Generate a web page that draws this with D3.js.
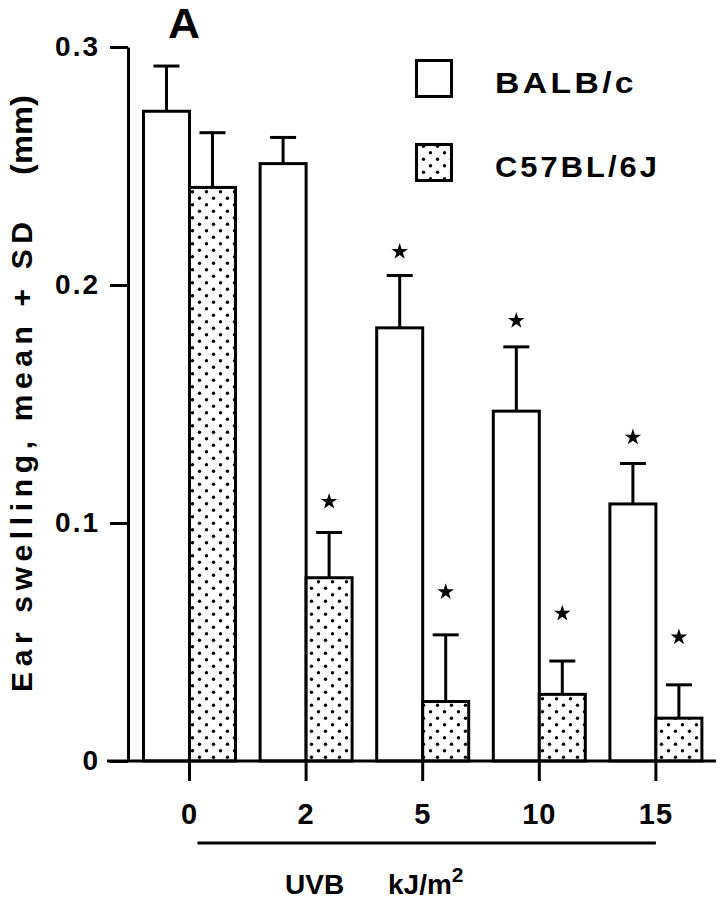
<!DOCTYPE html>
<html>
<head>
<meta charset="utf-8">
<script src="https://cdn.jsdelivr.net/npm/d3@7"></script>
<style>
  body { margin: 0; background: #fff; }
  svg text { font-family: "Liberation Sans", Arial, Helvetica, sans-serif; font-weight: bold; fill: #000; }
</style>
</head>
<body>
<script>
// UVB doses (kJ/m2) and the two mouse strains
const doses = ["0", "2", "5", "10", "15"];
const strains = ["BALB/c", "C57BL/6J"];

// ear swelling (mm), mean and SD
const balbMean = [0.273, 0.251, 0.182, 0.147, 0.108];
const balbSD   = [0.019, 0.011, 0.022, 0.027, 0.017];
const c57Mean  = [0.241, 0.077, 0.025, 0.028, 0.018];
const c57SD    = [0.023, 0.019, 0.028, 0.014, 0.014];

// level of the significance stars (null = none)
const balbStar = [null, null, 0.214, 0.185, 0.136];
const c57Star  = [null, 0.109, 0.071, 0.062, 0.052];

const yTicks = [0, 0.1, 0.2, 0.3];

const width = 721, height = 900;

const svg = d3.select("body").append("svg")
    .attr("width", width)
    .attr("height", height);

// dotted fill for C57BL/6J
const pat = svg.append("defs").append("pattern")
    .attr("id", "dots")
    .attr("patternUnits", "userSpaceOnUse")
    .attr("width", 14)
    .attr("height", 13);
pat.append("rect").attr("width", 14).attr("height", 13).attr("fill", "#fff");
pat.append("circle").attr("cx", 3.5).attr("cy", 3.2).attr("r", 1.7).attr("fill", "#000");
pat.append("circle").attr("cx", 10.5).attr("cy", 9.7).attr("r", 1.7).attr("fill", "#000");

const fills = ["#fff", "url(#dots)"];

// scales
const x0 = d3.scaleBand()
    .domain(doses)
    .range([143.5, 701.9])
    .paddingInner(0.211)
    .paddingOuter(0);

const x1 = d3.scaleBand()
    .domain(strains)
    .range([0, x0.bandwidth()]);

const y = d3.scaleLinear()
    .domain([0, 0.3])
    .range([761, 47]);

// rows: one per bar
const rows = [];
doses.forEach((d, i) => {
    rows.push({ dose: d, strain: strains[0], mean: balbMean[i], sd: balbSD[i], star: balbStar[i] });
    rows.push({ dose: d, strain: strains[1], mean: c57Mean[i], sd: c57SD[i], star: c57Star[i] });
});

const bx = d => x0(d.dose) + x1(d.strain);
const cx = d => bx(d) + x1.bandwidth() / 2;

// error bars (T shape) drawn first so the bar outline sits on top
const err = svg.append("g").attr("stroke", "#000").attr("stroke-width", 3);
err.selectAll(".stem")
    .data(rows)
    .enter().append("line")
    .attr("x1", cx).attr("x2", cx)
    .attr("y1", d => y(d.mean))
    .attr("y2", d => y(d.mean + d.sd));
err.selectAll(".cap")
    .data(rows)
    .enter().append("line")
    .attr("x1", d => cx(d) - 13).attr("x2", d => cx(d) + 13)
    .attr("y1", d => y(d.mean + d.sd))
    .attr("y2", d => y(d.mean + d.sd));

// bars
svg.append("g").selectAll("rect")
    .data(rows)
    .enter().append("rect")
    .attr("x", bx)
    .attr("y", d => y(d.mean))
    .attr("width", x1.bandwidth())
    .attr("height", d => y(0) - y(d.mean))
    .attr("fill", d => fills[strains.indexOf(d.strain)])
    .attr("stroke", "#000")
    .attr("stroke-width", 3);

// significance stars
svg.append("g").selectAll("path")
    .data(rows.filter(d => d.star !== null))
    .enter().append("path")
    .attr("d", d3.symbol(d3.symbolStar).size(85))
    .attr("transform", d => `translate(${cx(d)},${y(d.star)})`)
    .attr("fill", "#000");

// y axis
const yAxis = svg.append("g")
    .attr("transform", "translate(128,0)")
    .call(d3.axisLeft(y).tickValues(yTicks).tickFormat(d => d === 0 ? "0" : d3.format(".1f")(d)).tickSize(18).tickSizeOuter(0).tickPadding(10));
yAxis.select(".domain").attr("stroke-width", 3);
yAxis.selectAll(".tick line").attr("stroke-width", 3);
yAxis.selectAll(".tick text")
    .attr("font-family", null)
    .style("font-size", "28px")
    .style("letter-spacing", "2px");

// x axis
const xAxis = svg.append("g")
    .attr("transform", `translate(0,${y(0)})`)
    .call(d3.axisBottom(x0).tickSize(20).tickSizeOuter(0).tickPadding(22));
xAxis.select(".domain").remove();
xAxis.selectAll(".tick line").attr("stroke-width", 3);
xAxis.selectAll(".tick text")
    .attr("font-family", null)
    .style("font-size", "29px")
    .style("letter-spacing", "1px");
xAxis.append("line")
    .attr("x1", 107)
    .attr("x2", 716)
    .attr("stroke", "#000")
    .attr("stroke-width", 3);

// line under the dose labels
const first = x0(doses[0]) + x0.bandwidth() / 2;
const last = x0(doses[doses.length - 1]) + x0.bandwidth() / 2;
svg.append("line")
    .attr("x1", first + 8).attr("x2", last)
    .attr("y1", 843).attr("y2", 843)
    .attr("stroke", "#000")
    .attr("stroke-width", 3);

// x title
const xt = svg.append("text")
    .attr("y", 894)
    .style("font-size", "28px");
xt.append("tspan").attr("x", 285).text("UVB");
xt.append("tspan").attr("x", 388).text("kJ/m");
xt.append("tspan").attr("dy", -12).style("font-size", "21px").text("2");

// y title, in two pieces with the wide gap before (mm)
const yTitle = svg.append("g").attr("transform", "translate(32,0) rotate(-90)");
yTitle.append("text")
    .attr("x", -692)
    .attr("textLength", 470)
    .attr("lengthAdjust", "spacing")
    .style("font-size", "30px")
    .text("Ear swelling, mean + SD");
yTitle.append("text")
    .attr("x", -175)
    .attr("textLength", 80)
    .attr("lengthAdjust", "spacingAndGlyphs")
    .style("font-size", "30px")
    .text("(mm)");

// panel letter
svg.append("text")
    .attr("x", 184)
    .attr("y", 38)
    .attr("text-anchor", "middle")
    .attr("textLength", 32)
    .attr("lengthAdjust", "spacingAndGlyphs")
    .style("font-size", "42px")
    .text("A");

// legend
const legend = svg.append("g");
const legendY = [60.5, 144.5];
strains.forEach((s, i) => {
    legend.append("rect")
        .attr("x", 416.5)
        .attr("y", legendY[i])
        .attr("width", 35)
        .attr("height", 36)
        .attr("fill", fills[i])
        .attr("stroke", "#000")
        .attr("stroke-width", 3);
    legend.append("text")
        .attr("x", 495)
        .attr("y", legendY[i] + 32)
        .attr("textLength", i === 0 ? 142 : 165)
        .attr("lengthAdjust", "spacingAndGlyphs")
        .style("font-size", "30px")
        .style("letter-spacing", "3px")
        .text(s);
});
</script>
</body>
</html>
